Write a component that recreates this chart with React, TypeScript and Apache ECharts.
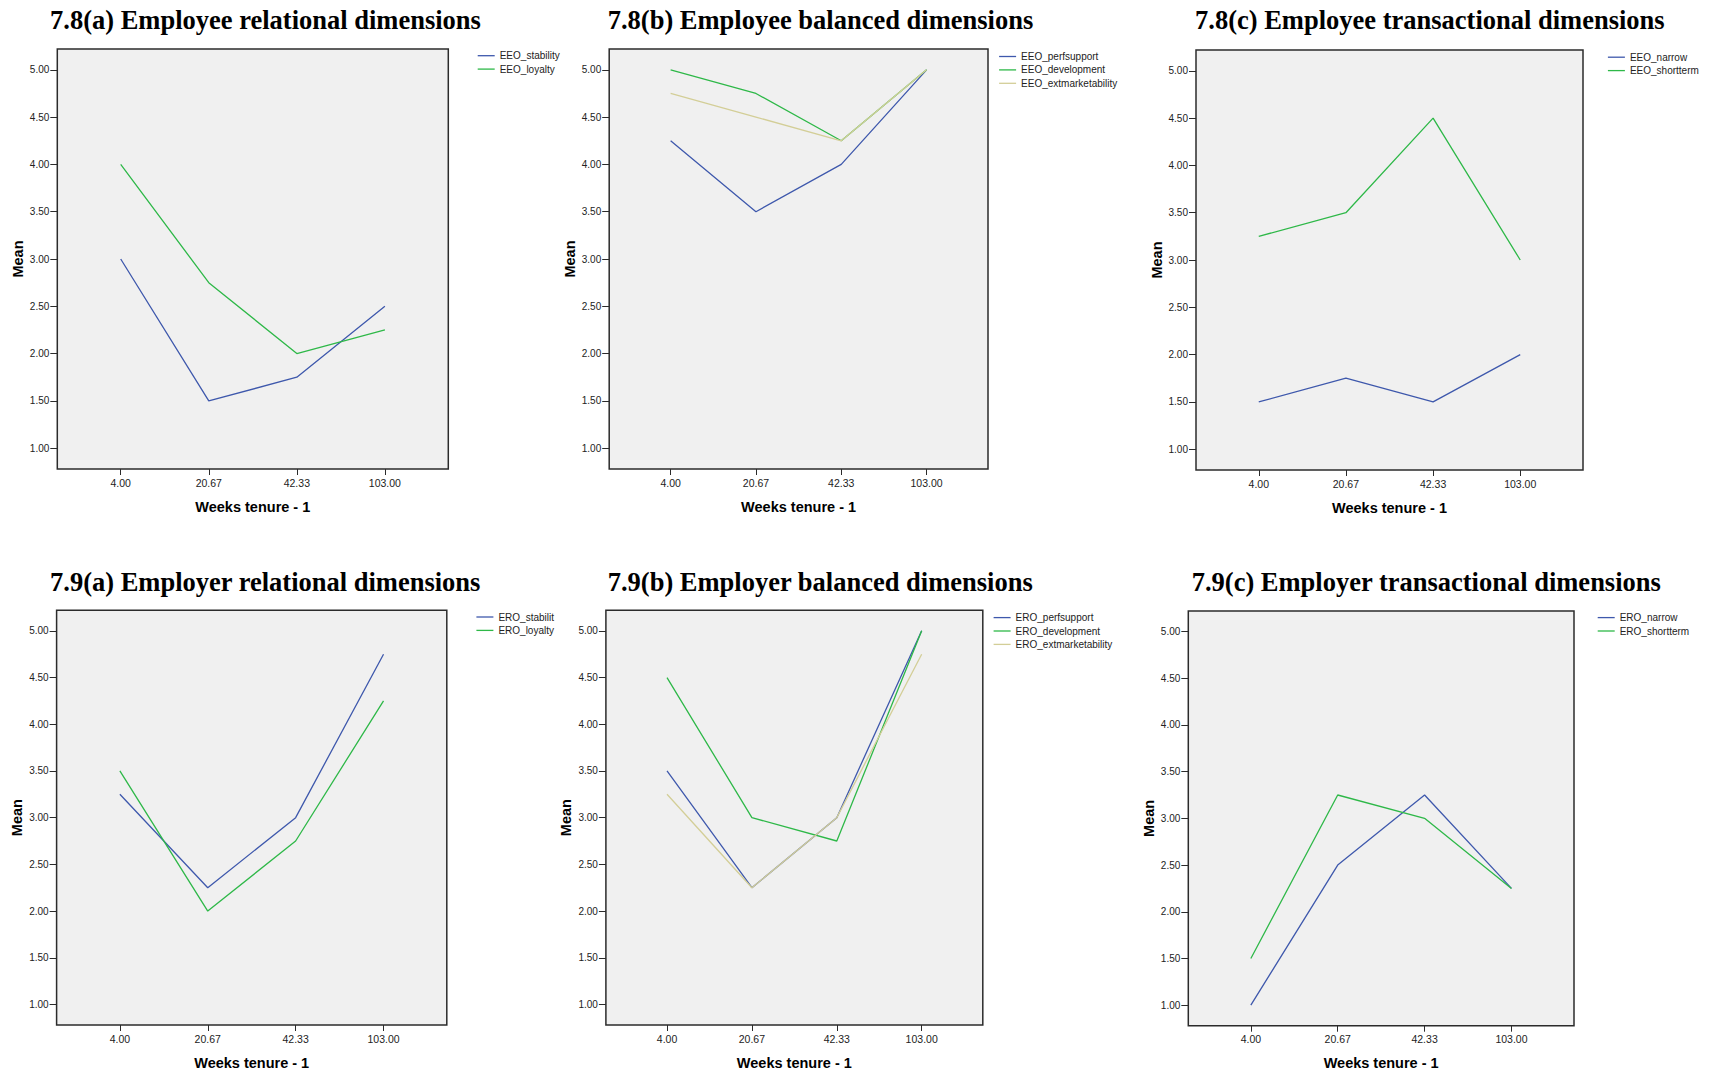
import React, { useEffect, useRef } from 'react';
import * as echarts from 'echarts';

// ---------- data ----------
const weeksTenure = ['4.00', '20.67', '42.33', '103.00'];
const meanTicks = [1, 1.5, 2, 2.5, 3, 3.5, 4, 4.5, 5];

const eeoStability = [3.0, 1.5, 1.75, 2.5];
const eeoLoyalty = [4.0, 2.75, 2.0, 2.25];

const eeoPerfsupport = [4.25, 3.5, 4.0, 5.0];
const eeoDevelopment = [5.0, 4.75, 4.25, 5.0];
const eeoExtmarketability = [4.75, 4.5, 4.25, 5.0];

const eeoNarrow = [1.5, 1.75, 1.5, 2.0];
const eeoShortterm = [3.25, 3.5, 4.5, 3.0];

const eroStability = [3.25, 2.25, 3.0, 4.75];
const eroLoyalty = [3.5, 2.0, 2.75, 4.25];

const eroPerfsupport = [3.5, 2.25, 3.0, 5.0];
const eroDevelopment = [4.5, 3.0, 2.75, 5.0];
const eroExtmarketability = [3.25, 2.25, 3.0, 4.75];

const eroNarrow = [1.0, 2.5, 3.25, 2.25];
const eroShortterm = [1.5, 3.25, 3.0, 2.25];

const titles = [
  '7.8(a) Employee relational dimensions',
  '7.8(b) Employee balanced dimensions',
  '7.8(c) Employee transactional dimensions',
  '7.9(a) Employer relational dimensions',
  '7.9(b) Employer balanced dimensions',
  '7.9(c) Employer transactional dimensions',
];

// ---------- styles ----------
const BLUE = '#3E58AC';
const GREEN = '#2EB848';
const BEIGE = '#D3CE97';

const panelSeries = [
  [
    { name: 'EEO_stability', values: eeoStability, color: BLUE },
    { name: 'EEO_loyalty', values: eeoLoyalty, color: GREEN },
  ],
  [
    { name: 'EEO_perfsupport', values: eeoPerfsupport, color: BLUE },
    { name: 'EEO_development', values: eeoDevelopment, color: GREEN },
    { name: 'EEO_extmarketability', values: eeoExtmarketability, color: BEIGE },
  ],
  [
    { name: 'EEO_narrow', values: eeoNarrow, color: BLUE },
    { name: 'EEO_shortterm', values: eeoShortterm, color: GREEN },
  ],
  [
    { name: 'ERO_stability', values: eroStability, color: BLUE },
    { name: 'ERO_loyalty', values: eroLoyalty, color: GREEN },
  ],
  [
    { name: 'ERO_perfsupport', values: eroPerfsupport, color: BLUE },
    { name: 'ERO_development', values: eroDevelopment, color: GREEN },
    { name: 'ERO_extmarketability', values: eroExtmarketability, color: BEIGE },
  ],
  [
    { name: 'ERO_narrow', values: eroNarrow, color: BLUE },
    { name: 'ERO_shortterm', values: eroShortterm, color: GREEN },
  ],
];

const layouts = [
  { grid: { left: 57.3, top: 49, width: 391, height: 420 }, titleLeft: 50, titleTop: 6, legendLeft: 477.7, legendTop: 50.7, clipLegend: 0 },
  { grid: { left: 609.2, top: 49, width: 378.8, height: 420 }, titleLeft: 607.7, titleTop: 6, legendLeft: 999.1, legendTop: 51.5, clipLegend: 0 },
  { grid: { left: 1196, top: 50, width: 387, height: 420 }, titleLeft: 1195, titleTop: 6, legendLeft: 1607.9, legendTop: 52.2, clipLegend: 0 },
  { grid: { left: 56.6, top: 610.3, width: 390.2, height: 414.7 }, titleLeft: 50, titleTop: 568, legendLeft: 476.4, legendTop: 612, clipLegend: 57 },
  { grid: { left: 605.9, top: 610.3, width: 376.9, height: 414.7 }, titleLeft: 607.7, titleTop: 568, legendLeft: 993.6, legendTop: 612.6, clipLegend: 0 },
  { grid: { left: 1188.3, top: 611, width: 385.7, height: 414.7 }, titleLeft: 1191.7, titleTop: 568, legendLeft: 1597.7, legendTop: 612.6, clipLegend: 0 },
];

const SANS = "'Liberation Sans', Arial, sans-serif";
const SERIF = "'Liberation Serif', 'Times New Roman', serif";
const INK = '#2b2b2b';

function buildOption() {
  const xIdx = weeksTenure.map((_, i) => i);
  const option: any = {
    animation: false,
    backgroundColor: '#ffffff',
    title: [],
    legend: [],
    grid: [],
    xAxis: [],
    yAxis: [],
    series: [],
  };
  panelSeries.forEach((series, p) => {
    const L = layouts[p];
    option.title.push({
      text: titles[p],
      left: L.titleLeft,
      top: L.titleTop,
      padding: 0,
      textStyle: { fontFamily: SERIF, fontWeight: 'bold', fontSize: 26.5, color: '#000' },
    });
    option.grid.push({
      ...L.grid,
      show: true,
      backgroundColor: '#F0F0F0',
      borderColor: INK,
      borderWidth: 1.5,
      containLabel: false,
    });
    option.xAxis.push({
      type: 'value',
      gridIndex: p,
      min: -0.72,
      max: 3.72,
      name: 'Weeks tenure - 1',
      nameLocation: 'middle',
      nameGap: 30,
      nameTextStyle: { fontFamily: SANS, fontWeight: 'bold', fontSize: 14.5, color: '#000' },
      axisLine: { show: false, onZero: false },
      axisTick: { show: true, customValues: xIdx, length: 6, lineStyle: { color: INK } },
      axisLabel: {
        customValues: xIdx,
        margin: 8,
        fontFamily: SANS,
        fontSize: 10.5,
        color: '#222',
        formatter: (v: number) => weeksTenure[Math.round(v)] ?? '',
      },
      splitLine: { show: false },
    });
    option.yAxis.push({
      type: 'value',
      gridIndex: p,
      min: 0.78,
      max: 5.22,
      name: 'Mean',
      nameLocation: 'middle',
      nameGap: 32,
      nameTextStyle: { fontFamily: SANS, fontWeight: 'bold', fontSize: 14.5, color: '#000' },
      axisLine: { show: false, onZero: false },
      axisTick: { show: true, customValues: meanTicks, length: 7, lineStyle: { color: INK } },
      axisLabel: {
        customValues: meanTicks,
        margin: 8,
        fontFamily: SANS,
        fontSize: 10,
        color: '#222',
        formatter: (v: number) => v.toFixed(2),
      },
      splitLine: { show: false },
    });
    const legendText: any = { fontFamily: SANS, fontSize: 10, color: '#222' };
    if (L.clipLegend) {
      legendText.width = L.clipLegend;
      legendText.overflow = 'truncate';
      legendText.ellipsis = '';
    }
    option.legend.push({
      orient: 'vertical',
      left: L.legendLeft,
      top: L.legendTop,
      padding: 0,
      icon: 'rect',
      itemWidth: 17,
      itemHeight: 1.3,
      itemGap: 3.4,
      itemStyle: { borderWidth: 0 },
      data: series.map((s) => s.name),
      textStyle: legendText,
      selectedMode: false,
    });
    series.forEach((s) => {
      option.series.push({
        type: 'line',
        name: s.name,
        xAxisIndex: p,
        yAxisIndex: p,
        symbol: 'none',
        color: s.color,
        itemStyle: { color: s.color },
        lineStyle: { color: s.color, width: 1.3 },
        data: xIdx.map((i) => [i, s.values[i]]),
        z: 3,
      });
    });
  });
  return option;
}

export default function App() {
  const ref = useRef<HTMLDivElement>(null);
  useEffect(() => {
    if (!ref.current) return;
    const chart = echarts.init(ref.current, undefined, { renderer: 'svg' });
    chart.setOption(buildOption());
    return () => chart.dispose();
  }, []);
  return (
    <div
      ref={ref}
      style={{ position: 'fixed', left: 0, top: 0, width: 1714, height: 1079, background: '#fff' }}
    />
  );
}
